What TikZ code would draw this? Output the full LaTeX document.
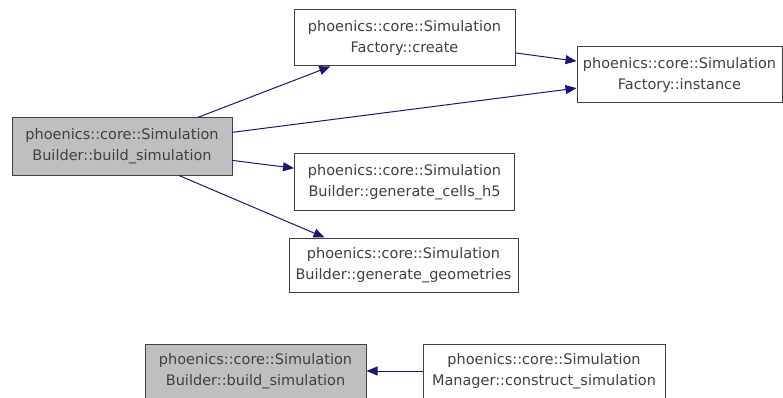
\documentclass[tikz,border=0pt]{standalone}
\usepackage{fontspec}
\setmainfont{DejaVu Sans}
\usetikzlibrary{arrows.meta}
\definecolor{midnight}{RGB}{25,25,112}
\tikzset{
	func/.style={draw=black!75, line width=1pt, fill=white, text=black!75, align=center, inner sep=0pt, font={\fontsize{14.5}{21}\selectfont}},
	funcsel/.style={func, fill=black!25},
	calls/.style={draw=midnight, line width=1pt, -{Triangle[length=11pt,width=9pt]}}
}

\begin{document}
\begin{tikzpicture}[x=1pt, y=-1pt]
			%%%%% START %%%%%
			\useasboundingbox (0, 0) rectangle (783, 398);
			
			\node[funcsel, minimum width=220pt, minimum height=57pt] (build) at (122, 146.5) {phoenics::core::Simulation\\Builder::build\_simulation};
			\node[func, minimum width=221pt, minimum height=56pt] (create) at (404.5, 38) {phoenics::core::Simulation\\Factory::create};
			\node[func, minimum width=205pt, minimum height=56pt] (instance) at (679.5, 75) {phoenics::core::Simulation\\Factory::instance};
			\node[func, minimum width=220pt, minimum height=56pt] (cells) at (404.5, 182) {phoenics::core::Simulation\\Builder::generate\_cells\_h5};
			\node[func, minimum width=229pt, minimum height=54pt] (geom) at (403.5, 265) {phoenics::core::Simulation\\Builder::generate\_geometries};
			
			\draw[calls] (build) -- (create);
			\draw[calls] (build) -- (instance);
			\draw[calls] (create) -- (instance);
			\draw[calls] (build) -- (cells);
			\draw[calls] ([xshift=57pt]build.south) -- ([xshift=-79pt]geom.north);
			
			\node[funcsel, minimum width=221pt, minimum height=54pt] (buildb) at (255.5, 371) {phoenics::core::Simulation\\Builder::build\_simulation};
			\node[func, minimum width=242pt, minimum height=54pt] (construct) at (544, 371) {phoenics::core::Simulation\\Manager::construct\_simulation};
			
			\draw[calls] (construct) -- (buildb);
			%%%%% END %%%%%
\end{tikzpicture}
\end{document}
